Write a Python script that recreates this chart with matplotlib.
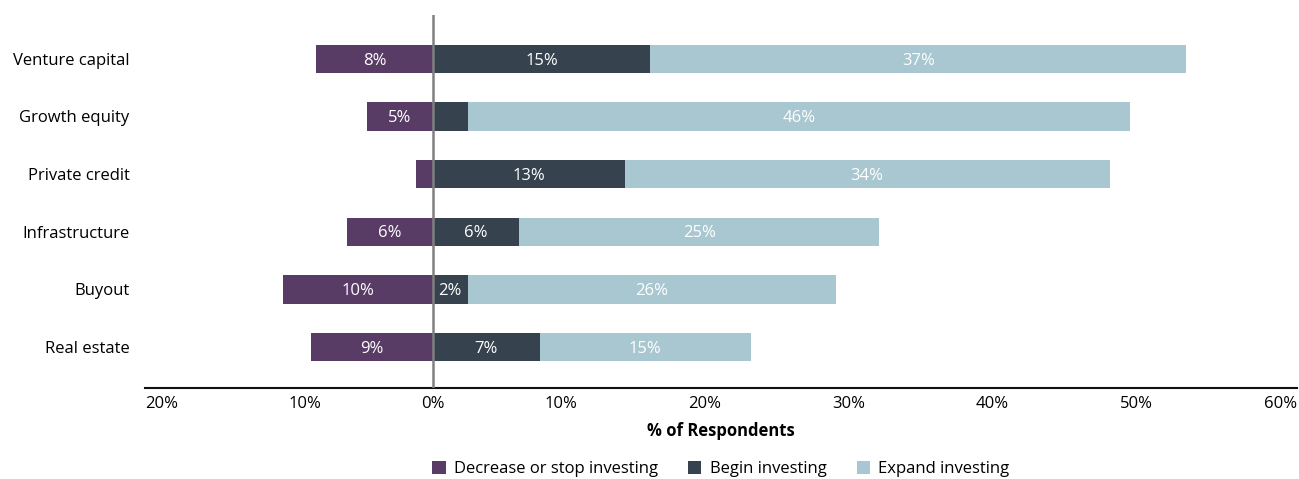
import matplotlib.pyplot as plt
from matplotlib.patches import Patch

plt.rcParams['font.family'] = ['Open Sans', 'DejaVu Sans']

# categories, top to bottom
categories = ['Venture capital', 'Growth equity', 'Private credit',
              'Infrastructure', 'Buyout', 'Real estate']

# % of respondents (decrease is drawn to the left of zero)
decrease = [8.1, 4.6, 1.2, 6.0, 10.4, 8.5]
begin = [15.1, 2.4, 13.3, 6.0, 2.4, 7.4]
expand = [37.2, 46.0, 33.7, 25.0, 25.6, 14.7]

# labels printed in the segments ('' = no label)
decrease_lbl = ['8%', '5%', '', '6%', '10%', '9%']
begin_lbl = ['15%', '', '13%', '6%', '2%', '7%']
expand_lbl = ['37%', '46%', '34%', '25%', '26%', '15%']

series = ['Decrease or stop investing', 'Begin investing', 'Expand investing']
colors = ['#593c66', '#36434f', '#a9c7d0']

fig = plt.figure(figsize=(12.99, 4.79), dpi=100)
ax = fig.add_axes([145 / 1299, 1 - 388 / 479, (1297 - 145) / 1299, (388 - 15) / 479])

y = list(range(len(categories)))
h = 0.49

b1 = ax.barh(y, [-d for d in decrease], height=h, color=colors[0])
b2 = ax.barh(y, begin, height=h, color=colors[1])
b3 = ax.barh(y, expand, left=begin, height=h, color=colors[2])

for bars, lbls in [(b1, decrease_lbl), (b2, begin_lbl), (b3, expand_lbl)]:
    for bar, lbl in zip(bars, lbls):
        if lbl:
            cx = bar.get_x() + bar.get_width() / 2
            cy = bar.get_y() + bar.get_height() / 2
            ax.text(cx, cy + 0.03, lbl, color='white', fontsize=12,
                    ha='center', va='center')

ax.axvline(0, color='#808080', lw=1.8, zorder=3)

ax.set_xlim(-20, 60)
ax.set_ylim(len(categories) - 1 + 0.71, -0.76)

ax.set_yticks(y)
ax.set_yticklabels(categories, fontsize=12)
ax.tick_params(axis='y', length=0, pad=11)

xt = list(range(-20, 61, 10))
ax.set_xticks(xt)
ax.set_xticklabels([f'{abs(v)}%' for v in xt], fontsize=12)
ax.tick_params(axis='x', length=0, pad=6)
for lab, v in zip(ax.get_xticklabels(), xt):
    if v < 0:
        lab.set_ha('left')
    elif v > 0:
        lab.set_ha('right')

for s in ['top', 'right', 'left']:
    ax.spines[s].set_visible(False)
ax.spines['bottom'].set_linewidth(1.5)
ax.spines['bottom'].set_color('#111111')

ax.set_xlabel('% of Respondents', fontsize=12, fontweight='bold', labelpad=7)

handles = [Patch(facecolor=c, label=s) for c, s in zip(colors, series)]
fig.legend(handles=handles, loc='lower center', ncol=3, frameon=False,
           fontsize=12, bbox_to_anchor=(0.555, -0.027), handlelength=0.8,
           handleheight=0.8, handletextpad=0.5, columnspacing=1.8)

fig.savefig('out.png', dpi=100)
